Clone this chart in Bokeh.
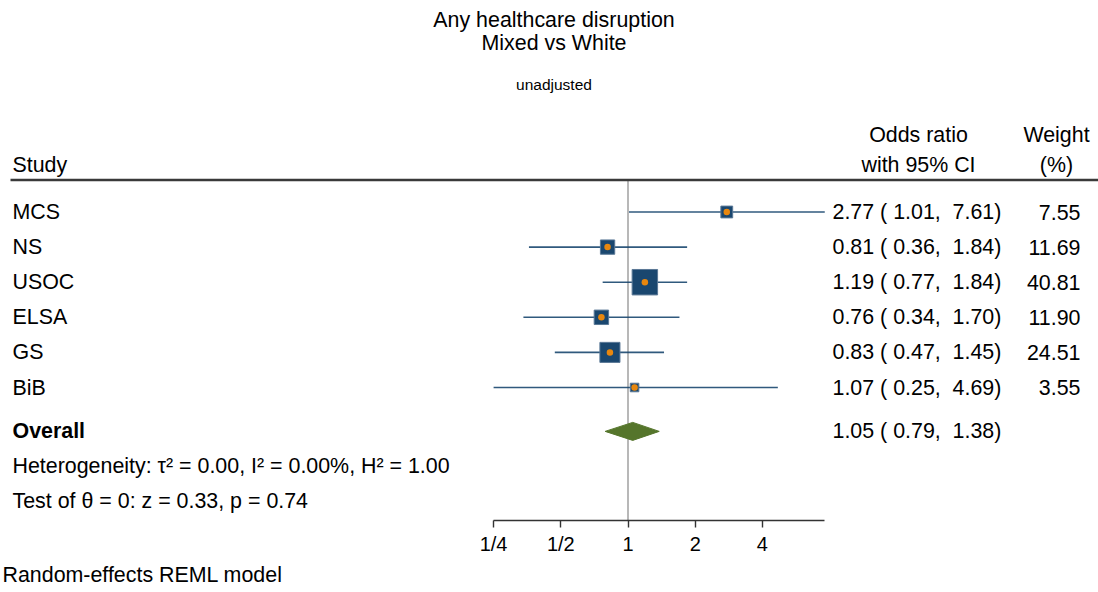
import math
from bokeh.plotting import figure
from bokeh.models import Range1d, LinearScale, FixedTicker, CustomJSTickFormatter, Title
from bokeh.core.properties import value
from bokeh.embed import file_html
from bokeh.resources import INLINE

# ---------------- data ----------------
STUDIES = ["MCS", "NS", "USOC", "ELSA", "GS", "BiB"]
ODDS_RATIO = [2.77, 0.81, 1.19, 0.76, 0.83, 1.07]
CI_LOWER = [1.01, 0.36, 0.77, 0.34, 0.47, 0.25]
CI_UPPER = [7.61, 1.84, 1.84, 1.70, 1.45, 4.69]
WEIGHTS = [7.55, 11.69, 40.81, 11.90, 24.51, 3.55]
OVERALL = [1.05, 0.79, 1.38]          # estimate, lower, upper
HETERO = [0.00, 0.00, 1.00]           # tau^2, I^2 (%), H^2
TEST = [0.33, 0.74]                   # z, p
NULL_VALUE = 1
TICKS = [0.25, 0.5, 1, 2, 4]
TICK_LABELS = ["1/4", "1/2", "1", "2", "4"]
TITLE_LINES = ["Any healthcare disruption", "Mixed vs White"]
SUBTITLE = "unadjusted"
NOTE = "Random-effects REML model"

# ---------------- layout constants ----------------
W, H = 1098, 592
OFF = 0                     # canvas offset on the page
X_ONE = 627.5               # page x of OR = 1
PPD = 67.2                  # pixels per doubling
FRAME_BOTTOM = 520          # page y of x axis
FONT = "Liberation Sans"
FS = "21.4px"
NAVY = "#1a476f"
ORANGE = "#e8870e"
GREEN = "#55752b"
NBSP = "\u00a0"

x_start = 2 ** ((OFF - X_ONE) / PPD)
x_end = 2 ** ((OFF + W - X_ONE) / PPD)

p = figure(width=W, height=H, x_axis_type="log",
           x_range=Range1d(x_start, x_end), y_range=Range1d(FRAME_BOTTOM, OFF),
           output_backend="svg", toolbar_location=None,
           y_axis_location=None, x_axis_location="below",
           min_border_left=0, min_border_right=0, min_border_top=0,
           min_border_bottom=H - (FRAME_BOTTOM - OFF))
p.extra_x_ranges = {"px": Range1d(OFF, OFF + W)}
p.extra_x_scales = {"px": LinearScale()}
p.outline_line_color = None
p.grid.visible = False
p.background_fill_color = "white"
p.border_fill_color = "white"

# axis
ax = p.xaxis[0]
ax.ticker = FixedTicker(ticks=TICKS, minor_ticks=[])
ax.formatter = CustomJSTickFormatter(args=dict(tvals=TICKS, tlabels=TICK_LABELS), code="""
    for (let i = 0; i < tvals.length; i++) {
        if (Math.abs(tvals[i] - tick) < 1e-9) return tlabels[i];
    }
    return "";
""")
ax.bounds = (min(CI_LOWER), max(CI_UPPER))
ax.axis_line_color = "#333333"
ax.axis_line_width = 1.4
ax.major_tick_line_color = "#333333"
ax.major_tick_line_width = 1.4
ax.major_tick_out = 7
ax.major_tick_in = 0
ax.minor_tick_line_color = None
ax.major_label_text_font = FONT
ax.major_label_text_font_size = "20px"
ax.major_label_text_color = "black"
ax.major_label_standoff = 5

# footnote below the axis
p.add_layout(Title(text=NOTE, align="left", offset=2, standoff=7,
                   text_font=FONT, text_font_size=FS, text_font_style="normal",
                   text_color="black"), "below")

# rows
ROW0, STEP = 211.5, 35.1
ys = [ROW0 + i * STEP for i in range(len(STUDIES))]
y_over = ROW0 + (len(STUDIES) + 0.25) * STEP
y_het = y_over + 35
y_test = y_het + 35

# reference line
p.segment(x0=[NULL_VALUE], x1=[NULL_VALUE], y0=[179.5], y1=[FRAME_BOTTOM],
          line_color="#a0a0a0", line_width=1.5)

# header rule
p.segment(x0=[10], x1=[OFF + W], y0=[179.5], y1=[179.5], x_range_name="px",
          line_color="#3a3a3a", line_width=2.5)

# CIs
p.segment(x0=CI_LOWER, x1=CI_UPPER, y0=ys, y1=ys, line_color=NAVY, line_width=1.6, line_alpha=0.9)
sizes = [3.75 * math.sqrt(w) + 1.5 for w in WEIGHTS]
p.scatter(x=ODDS_RATIO, y=ys, size=sizes, marker="square",
          fill_color=NAVY, line_color="#5a7896", line_width=1)
p.scatter(x=ODDS_RATIO, y=ys, size=6.5, marker="circle",
          fill_color=ORANGE, line_color=None)

# overall diamond
est, lo, hi = OVERALL
p.patch(x=[lo, est, hi, est], y=[y_over, y_over - 9, y_over, y_over + 9],
        fill_color=GREEN, line_color=GREEN, line_width=1)

def txt(x, y, t, align="left", size=FS, style="normal", base="middle"):
    p.text(x=x, y=y, text=t, x_range_name="px", text_align=align,
           text_baseline=base, text_font=value(FONT), text_font_size=size,
           text_font_style=style, text_color="black")

def ci_str(o, l, u):
    return f"{o:.2f} ( {l:.2f}, " + f"{u:5.2f}".replace(" ", NBSP) + ")"

# titles
txt([553.5, 553.5], [19, 42], TITLE_LINES, align="center")
txt([553.5], [84], [SUBTITLE], align="center", size="15.5px")

# headers
txt([12], [164], ["Study"])
txt([918, 918], [134, 164], ["Odds ratio", "with 95% CI"], align="center")
txt([1056, 1056], [134, 164], ["Weight", "(%)"], align="center")

# study rows
txt([12] * len(STUDIES), ys, STUDIES)
ci_text = [ci_str(o, l, u) for o, l, u in zip(ODDS_RATIO, CI_LOWER, CI_UPPER)]
txt([832] * len(STUDIES), ys, ci_text)
txt([1080] * len(STUDIES), ys, [f"{w:.2f}" for w in WEIGHTS], align="right")

# overall
txt([12], [y_over], ["Overall"], style="bold")
txt([832], [y_over], [ci_str(est, lo, hi)])
txt([12], [y_het], [f"Heterogeneity: \u03c4\u00b2 = {HETERO[0]:.2f}, I\u00b2 = {HETERO[1]:.2f}%, H\u00b2 = {HETERO[2]:.2f}"])
txt([12], [y_test], [f"Test of \u03b8 = 0: z = {TEST[0]:.2f}, p = {TEST[1]:.2f}"])

open("out.html", "w").write(file_html(p, INLINE))
